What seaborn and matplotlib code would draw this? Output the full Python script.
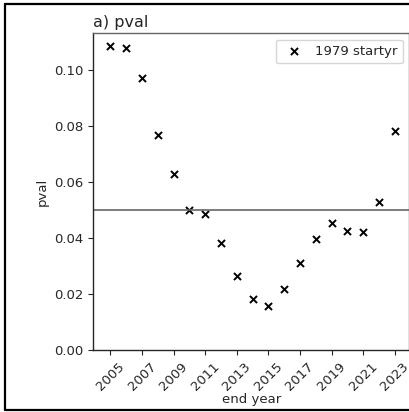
import numpy as np
import pandas as pd
import matplotlib
matplotlib.use("Agg")
import matplotlib.pyplot as plt
import seaborn as sns
from matplotlib.lines import Line2D

end_years = [2005, 2006, 2007, 2008, 2009, 2010, 2011, 2012, 2013, 2014,
             2015, 2016, 2017, 2018, 2019, 2020, 2021, 2022, 2023]
pvals = [0.1083, 0.1077, 0.0970, 0.0766, 0.0627, 0.0500, 0.0485, 0.0381, 0.0265, 0.0182,
         0.0158, 0.0218, 0.0312, 0.0396, 0.0452, 0.0426, 0.0420, 0.0527, 0.0780]
series_label = "1979 startyr"
threshold = 0.05
xtick_years = list(range(2005, 2024, 2))

sns.set_theme(style="ticks")
plt.rcParams['font.family'] = ['DejaVu Sans']

df = pd.DataFrame({"end year": end_years, "pval": pvals})

fig = plt.figure(figsize=(4.10, 4.12), dpi=100)
ax = fig.add_axes([93/410, 62/412, (409.5-93)/410, (350-33)/412])

sns.scatterplot(data=df, x="end year", y="pval", marker="x", color="black",
                s=26, linewidth=1.4, label=series_label, ax=ax)
ax.axhline(threshold, color="0.4", linewidth=1.2)

ax.set_xlim(2003.9, 2023.93)
ax.set_ylim(0, 0.1131)
ax.set_xticks(xtick_years)
ax.set_xticklabels([str(y) for y in xtick_years], rotation=45, ha="center", fontsize=9.5)
ax.set_yticks([0.0, 0.02, 0.04, 0.06, 0.08, 0.10])
ax.set_yticklabels(["0.00", "0.02", "0.04", "0.06", "0.08", "0.10"], fontsize=9.5)
ax.tick_params(length=3.5, width=0.8, pad=3.5, colors="0.15")
ax.set_xlabel("end year", fontsize=9.5, labelpad=0)
ax.set_ylabel("pval", fontsize=9.5, labelpad=4)
ax.set_title("a) pval", loc="left", fontsize=11.5, pad=4)
for name, sp in ax.spines.items():
    sp.set_visible(True)
    sp.set_linewidth(1.0)
    sp.set_color("0.15" if name in ("left", "bottom") else "0.4")
ax.legend(loc="upper right", fontsize=9.5, handletextpad=0.6, borderpad=0.4)

# figure frame
W, H = 410, 412
fig.add_artist(Line2D([5/W, 1.0], [1-4/H, 1-4/H], color="black", linewidth=1.6, transform=fig.transFigure))
fig.add_artist(Line2D([5.5/W, 5.5/W], [1-4/H, 1-409.5/H], color="black", linewidth=1.6, transform=fig.transFigure))
fig.add_artist(Line2D([5/W, 1.0], [1-409.5/H, 1-409.5/H], color="black", linewidth=1.6, transform=fig.transFigure))

fig.savefig("out.png", dpi=100)
